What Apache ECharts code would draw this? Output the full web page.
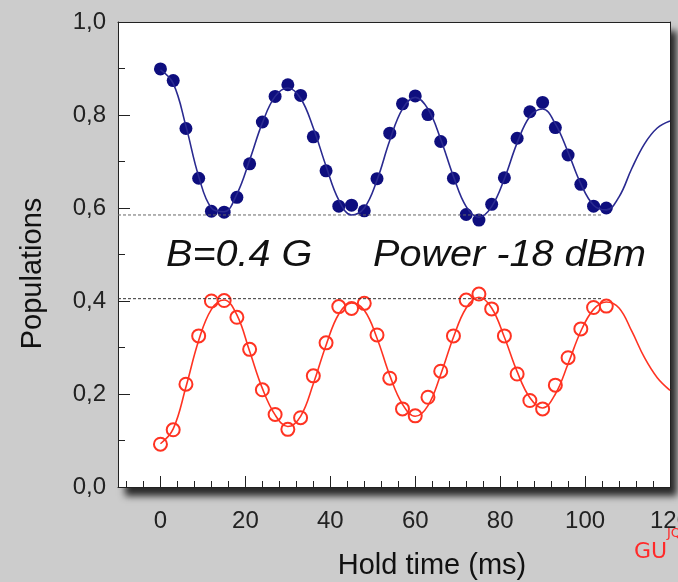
<!DOCTYPE html>
<html>
<head>
<meta charset="utf-8">
<script src="https://cdn.jsdelivr.net/npm/echarts@6/dist/echarts.min.js"></script>
<style>
html,body{margin:0;padding:0;background:#cccccc;}
#chart{width:678px;height:582px;}
</style>
</head>
<body>
<div id="chart"></div>
<script>
// ---- data ----
const holdTime = [0,3,6,9,12,15,18,21,24,27,30,33,36,39,42,45,48,51,54,57,60,63,66,69,72,75,78,81,84,87,90,93,96,99,102,105];
const upperPop = [0.899,0.874,0.771,0.664,0.593,0.591,0.623,0.695,0.785,0.840,0.865,0.842,0.753,0.680,0.604,0.606,0.594,0.663,0.761,0.824,0.841,0.801,0.743,0.664,0.586,0.574,0.608,0.665,0.750,0.807,0.827,0.773,0.714,0.651,0.604,0.600];
const lowerPop = [0.092,0.123,0.221,0.325,0.400,0.401,0.365,0.296,0.209,0.156,0.124,0.149,0.239,0.310,0.388,0.384,0.395,0.327,0.234,0.168,0.153,0.193,0.249,0.325,0.402,0.415,0.383,0.325,0.243,0.186,0.168,0.219,0.278,0.340,0.386,0.389];

const fitTime = [0,3,6,9,12,15,18,21,24,27,30,33,36,39,42,45,48,51,54,57,60,63,66,69,72,75,78,81,84,87,90,93,96,99,102,105,108,111,114,117,120];
const upperFit = [0.897,0.868,0.776,0.668,0.600,0.592,0.630,0.703,0.783,0.840,0.858,0.836,0.772,0.690,0.617,0.585,0.600,0.660,0.745,0.813,0.838,0.813,0.748,0.668,0.603,0.580,0.603,0.663,0.740,0.797,0.813,0.781,0.720,0.652,0.606,0.596,0.624,0.685,0.738,0.772,0.787];
const lowerFit = [0.093,0.125,0.215,0.315,0.382,0.402,0.370,0.292,0.212,0.155,0.130,0.152,0.222,0.305,0.372,0.396,0.380,0.320,0.240,0.178,0.152,0.175,0.242,0.322,0.385,0.408,0.385,0.322,0.248,0.192,0.170,0.200,0.265,0.335,0.382,0.398,0.385,0.335,0.278,0.235,0.208];

const levelTime = [-10,104];
const upperLevel = [0.585,0.585];
const lowerLevel = [0.405,0.405];

const xMajorTicks = [0,20,40,60,80,100,120];
const xMinorTicks = [-8,-4,4,8,12,16,24,28,32,36,44,48,52,56,64,68,72,76,84,88,92,96,104,108,112,116];
const annotations = ['B=0.4 G','Power -18 dBm'];

// ---- chart ----
const pair = (xs, ys) => xs.map((x, i) => [x, ys[i]]);
const BLUE_PT = '#0e0e7e', BLUE_LN = '#2a2a90', RED = '#ff3322';
const FONT = 'Liberation Sans';
const frameAxis = {axisLine: {show: true, onZero: false, lineStyle: {color: '#222', width: 1}},
  axisTick: {show: false}, axisLabel: {show: false}, splitLine: {show: false}};

const chart = echarts.init(document.getElementById('chart'), null, {renderer: 'canvas'});
chart.setOption({
  backgroundColor: '#cccccc',
  animation: false,
  grid: {
    left: 118, right: 8, top: 22, bottom: 95,
    outerBoundsMode: 'none', containLabel: false,
    show: true, backgroundColor: '#ffffff', borderWidth: 0,
    shadowColor: 'rgba(0,0,0,0.8)', shadowBlur: 7, shadowOffsetX: 7, shadowOffsetY: 9
  },
  xAxis: [{
    type: 'value', min: -10, max: 120, position: 'bottom',
    name: 'Hold time (ms)', nameLocation: 'middle', nameGap: 64,
    nameTextStyle: {fontFamily: FONT, fontSize: 29, color: '#111', padding: [0,0,0,76]},
    axisLine: {show: true, onZero: false, lineStyle: {color: '#222', width: 1}},
    axisTick: {show: true, inside: true, length: 11, customValues: xMajorTicks, lineStyle: {color: '#222'}},
    axisLabel: {show: true, customValues: xMajorTicks, margin: 22, fontFamily: FONT, fontSize: 24, color: '#222'},
    splitLine: {show: false}
  }, {
    type: 'value', min: -10, max: 120, position: 'bottom', offset: 0,
    axisLine: {show: false, onZero: false},
    axisTick: {show: true, inside: true, length: 6, customValues: xMinorTicks, lineStyle: {color: '#222'}},
    axisLabel: {show: false},
    splitLine: {show: false}
  }, Object.assign({type: 'value', min: -10, max: 120, position: 'top'}, frameAxis)],
  yAxis: [{
    type: 'value', min: 0, max: 1, interval: 0.2,
    name: 'Populations', nameLocation: 'middle', nameGap: 71, nameRotate: 90,
    nameTextStyle: {fontFamily: FONT, fontSize: 29, color: '#111', padding: [0,38,0,0]},
    axisLine: {show: true, onZero: false, lineStyle: {color: '#222', width: 1}},
    axisTick: {show: true, inside: true, length: 12, lineStyle: {color: '#222'}},
    minorTick: {show: true, splitNumber: 2, length: 7, lineStyle: {color: '#222'}},
    axisLabel: {margin: 12, fontFamily: FONT, fontSize: 24, color: '#222',
      formatter: v => v.toFixed(1).replace('.', ',')},
    splitLine: {show: false}
  }, Object.assign({type: 'value', min: 0, max: 1, position: 'right'}, frameAxis)],
  series: [
    {type: 'line', data: pair(levelTime, upperLevel), symbol: 'none', silent: true,
     lineStyle: {color: '#666', width: 1, type: [3,2]}},
    {type: 'line', data: pair(levelTime, lowerLevel), symbol: 'none', silent: true,
     lineStyle: {color: '#333', width: 1, type: [3,2]}},
    {type: 'line', data: pair(fitTime, upperFit), symbol: 'none', smooth: 0.4,
     lineStyle: {color: BLUE_LN, width: 1.6}},
    {type: 'line', data: pair(fitTime, lowerFit), symbol: 'none', smooth: 0.4,
     lineStyle: {color: RED, width: 1.6}},
    {type: 'scatter', data: pair(holdTime, upperPop), symbol: 'circle', symbolSize: 13,
     itemStyle: {color: BLUE_PT, opacity: 1}},
    {type: 'scatter', data: pair(holdTime, lowerPop), symbol: 'circle', symbolSize: 13,
     itemStyle: {color: '#ffffff', borderColor: RED, borderWidth: 2, opacity: 1}}
  ],
  graphic: [
    {type: 'text', x: 166, y: 256, scaleX: 1.1, z: 100,
     style: {text: annotations[0], fontFamily: FONT, fontStyle: 'italic', fontSize: 36, fill: '#111',
       align: 'left', verticalAlign: 'middle'}},
    {type: 'text', x: 373, y: 256, scaleX: 1.1, z: 100,
     style: {text: annotations[1], fontFamily: FONT, fontStyle: 'italic', fontSize: 36, fill: '#111',
       align: 'left', verticalAlign: 'middle'}},
    {type: 'text', left: 634, top: 541, z: 100,
     style: {text: 'GU', fontFamily: 'DejaVu Sans', fontSize: 22, fill: '#ff2a2a'}},
    {type: 'text', left: 667, top: 527, z: 100,
     style: {text: 'JQ', fontFamily: 'DejaVu Sans', fontSize: 13, fill: '#ff2a2a'}}
  ]
});
</script>
</body>
</html>
